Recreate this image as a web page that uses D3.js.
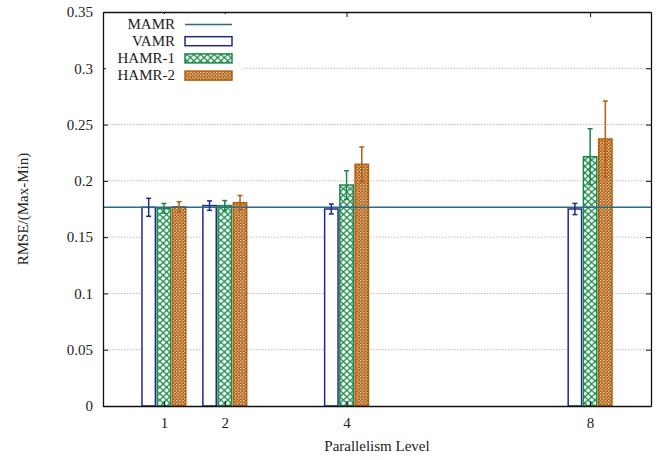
<!DOCTYPE html>
<html>
<head>
<meta charset="utf-8">
<script src="https://cdn.jsdelivr.net/npm/d3@7"></script>
<style>
  body { margin: 0; background: #fff; }
  svg text { font-family: "Liberation Serif", "Times New Roman", serif; fill: #222; }
</style>
</head>
<body>
<script>
// parallelism levels on the x axis
var levels = [1, 2, 4, 8];
var series = ['VAMR', 'HAMR-1', 'HAMR-2'];
var vamr = [0.1765, 0.178, 0.175, 0.175];
var vamrErr = [0.008, 0.0042, 0.0044, 0.005];
var hamr1 = [0.1756, 0.178, 0.1963, 0.2215];
var hamr1Err = [0.0043, 0.0045, 0.0127, 0.0248];
var hamr2 = [0.177, 0.1806, 0.2147, 0.2372];
var hamr2Err = [0.0045, 0.0064, 0.0154, 0.0337];
var mamr = 0.1765;
var yTicks = [0, 0.05, 0.1, 0.15, 0.2, 0.25, 0.3, 0.35];

var w = 662, h = 460;
var m = {top: 12, right: 11, bottom: 54, left: 103};

var svg = d3.select('body').append('svg')
  .attr('width', w)
  .attr('height', h);

var x = d3.scaleLinear().domain([0, 9]).range([m.left, w - m.right]);
var y = d3.scaleLinear().domain([0, 0.35]).range([h - m.bottom, m.top]);

var colors = {VAMR: '#1f2a8a', 'HAMR-1': '#1a8748', 'HAMR-2': '#b2600f'};
var mamrColor = '#2e6a88';

var defs = svg.append('defs');
var p1 = defs.append('pattern')
  .attr('id', 'hatch1')
  .attr('patternUnits', 'userSpaceOnUse')
  .attr('width', 6.8).attr('height', 6.4);
p1.append('rect').attr('width', 6.8).attr('height', 6.4).attr('fill', '#fff');
p1.append('path')
  .attr('d', 'M0,0L6.8,6.4M6.8,0L0,6.4')
  .attr('stroke', colors['HAMR-1'])
  .attr('stroke-width', 1.3);

var p2 = defs.append('pattern')
  .attr('id', 'hatch2')
  .attr('patternUnits', 'userSpaceOnUse')
  .attr('width', 3.2).attr('height', 3.2);
p2.append('rect').attr('width', 3.2).attr('height', 3.2).attr('fill', colors['HAMR-2']);
p2.append('rect').attr('width', 1.1).attr('height', 1.1).attr('fill', '#fff');
p2.append('rect').attr('x', 1.6).attr('y', 1.6).attr('width', 1.1).attr('height', 1.1).attr('fill', '#fff');

var fills = {VAMR: '#fff', 'HAMR-1': 'url(#hatch1)', 'HAMR-2': 'url(#hatch2)'};

// dotted grid
svg.append('g')
  .selectAll('line')
  .data(yTicks.slice(1, -1))
  .enter().append('line')
  .attr('x1', x(0)).attr('x2', x(9))
  .attr('y1', function(d) { return y(d); })
  .attr('y2', function(d) { return y(d); })
  .attr('stroke', '#bbb')
  .attr('stroke-width', 1)
  .attr('stroke-dasharray', '1.5,1.5');

var rows = [];
levels.forEach(function(lv, i) {
  rows.push({s: 'VAMR', lv: lv, v: vamr[i], e: vamrErr[i], k: 0});
  rows.push({s: 'HAMR-1', lv: lv, v: hamr1[i], e: hamr1Err[i], k: 1});
  rows.push({s: 'HAMR-2', lv: lv, v: hamr2[i], e: hamr2Err[i], k: 2});
});

var bw = 0.22, step = 0.25;
var cx = function(d) { return x(d.lv + (d.k - 1) * step); };

svg.append('g')
  .selectAll('rect')
  .data(rows)
  .enter().append('rect')
  .attr('x', function(d) { return cx(d) - (x(bw) - x(0)) / 2; })
  .attr('width', x(bw) - x(0))
  .attr('y', function(d) { return y(d.v); })
  .attr('height', function(d) { return y(0) - y(d.v); })
  .attr('fill', function(d) { return fills[d.s]; })
  .attr('stroke', function(d) { return colors[d.s]; })
  .attr('stroke-width', 1.5);

// MAMR reference line
svg.append('line')
  .attr('x1', x(0)).attr('x2', x(9))
  .attr('y1', y(mamr)).attr('y2', y(mamr))
  .attr('stroke', mamrColor)
  .attr('stroke-width', 1.5);

// error bars
var eb = svg.append('g').selectAll('g')
  .data(rows)
  .enter().append('g')
  .attr('stroke', function(d) { return colors[d.s]; })
  .attr('stroke-width', 1.5);
eb.append('line')
  .attr('x1', cx).attr('x2', cx)
  .attr('y1', function(d) { return y(d.v + d.e); })
  .attr('y2', function(d) { return y(d.v - d.e); });
eb.append('line')
  .attr('x1', function(d) { return cx(d) - 2.5; })
  .attr('x2', function(d) { return cx(d) + 2.5; })
  .attr('y1', function(d) { return y(d.v + d.e); })
  .attr('y2', function(d) { return y(d.v + d.e); });
eb.append('line')
  .attr('x1', function(d) { return cx(d) - 2.5; })
  .attr('x2', function(d) { return cx(d) + 2.5; })
  .attr('y1', function(d) { return y(d.v - d.e); })
  .attr('y2', function(d) { return y(d.v - d.e); });

// axes (gnuplot style: inner ticks, mirrored)
var fs = '15px';
var axB = svg.append('g').attr('transform', 'translate(0,' + y(0) + ')')
  .call(d3.axisBottom(x).tickValues(levels).tickSizeInner(-5).tickSizeOuter(0).tickPadding(11));
var axT = svg.append('g').attr('transform', 'translate(0,' + y(0.35) + ')')
  .call(d3.axisTop(x).tickValues(levels).tickSizeInner(-5).tickSizeOuter(0).tickFormat(''));
var axL = svg.append('g').attr('transform', 'translate(' + x(0) + ',0)')
  .call(d3.axisLeft(y).tickValues(yTicks).tickSizeInner(-5).tickSizeOuter(0).tickPadding(10)
    .tickFormat(function(d) { return String(+d.toFixed(2)); }));
var axR = svg.append('g').attr('transform', 'translate(' + x(9) + ',0)')
  .call(d3.axisRight(y).tickValues(yTicks).tickSizeInner(-5).tickSizeOuter(0).tickFormat(''));
[axB, axT, axL, axR].forEach(function(a) {
  a.select('.domain').attr('stroke', '#111').attr('stroke-width', 1.3);
  a.selectAll('.tick line').attr('stroke', '#111');
  a.selectAll('text').style('font-size', fs).style('font-family', '"Liberation Serif", serif').attr('fill', '#222');
});

// legend
var key = svg.append('g');
key.append('rect')
  .attr('x', 106).attr('y', 14).attr('width', 136).attr('height', 72)
  .attr('fill', '#fff');
var keyItems = ['MAMR'].concat(series);
keyItems.forEach(function(s, i) {
  var ky = 23.5 + i * 17.2;
  key.append('text')
    .attr('x', 175).attr('y', ky + 5)
    .attr('text-anchor', 'end')
    .style('font-size', fs)
    .text(s);
  if (s === 'MAMR') {
    key.append('line')
      .attr('x1', 185).attr('x2', 232)
      .attr('y1', ky + 1).attr('y2', ky + 1)
      .attr('stroke', mamrColor).attr('stroke-width', 1.5);
  } else {
    key.append('rect')
      .attr('x', 185).attr('y', ky - 4).attr('width', 47).attr('height', 9)
      .attr('fill', fills[s])
      .attr('stroke', colors[s]).attr('stroke-width', 1.5);
  }
});

// axis titles
svg.append('text')
  .attr('x', (x(0) + x(9)) / 2).attr('y', 451)
  .attr('text-anchor', 'middle')
  .style('font-size', fs)
  .text('Parallelism Level');
svg.append('text')
  .attr('transform', 'translate(28,' + (y(0.175)) + ') rotate(-90)')
  .attr('text-anchor', 'middle')
  .style('font-size', fs)
  .text('RMSE/(Max-Min)');
</script>
</body>
</html>
